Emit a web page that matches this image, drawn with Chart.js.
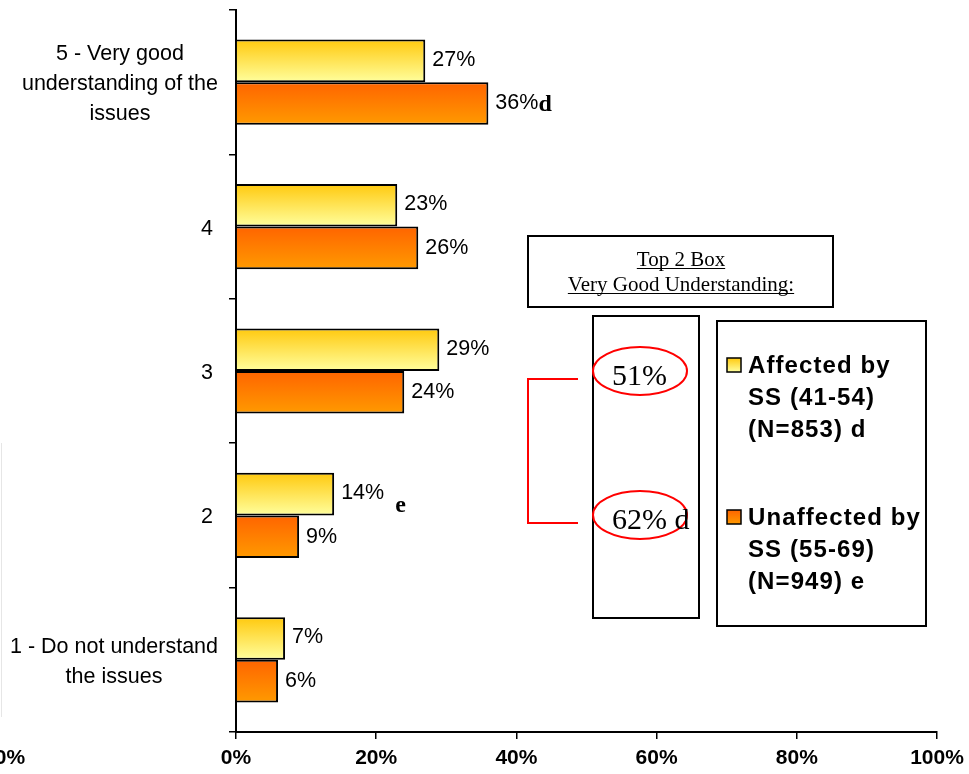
<!DOCTYPE html>
<html>
<head>
<meta charset="utf-8">
<script src="https://cdn.jsdelivr.net/npm/chart.js@4/dist/chart.umd.min.js"></script>
<style>
  html, body { margin: 0; padding: 0; background: #fff; }
  #wrap { width: 969px; height: 774px; }
</style>
</head>
<body>
<div id="wrap"><canvas id="c" width="969" height="774"></canvas></div>
<script>
// Understanding of the issues, by group
const categories = [
  ['5 - Very good', 'understanding of the', 'issues'],
  ['4'],
  ['3'],
  ['2'],
  ['1 - Do not understand', 'the issues']
];
const affected = [27, 23, 29, 14, 7];
const unaffected = [36, 26, 24, 9, 6];
// significance letters shown next to the value labels
const affectedSig = ['', '', '', 'e', ''];
const unaffectedSig = ['d', '', '', '', ''];
const seriesNames = [
  ['Affected by', 'SS (41-54)', '(N=853) d'],
  ['Unaffected by', 'SS (55-69)', '(N=949) e']
];
const xTicks = [0, 20, 40, 60, 80, 100];
const top2Title = ['Top 2 Box', 'Very Good Understanding:'];
const top2Values = [51, 62];
const top2Sig = ['', 'd'];

const CAT_PCT = 0.59;
const SANS = "'Liberation Sans', Arial, sans-serif";
const SERIF = "'Liberation Serif', 'Times New Roman', serif";
const fills = [['#FFC90E', '#FFFF9E'], ['#FF6400', '#FF9A00']];

// vertical gradient per bar, located through the category scale
function barFill(colors, slot) {
  return (c) => {
    const chart = c.chart;
    const ys = chart.scales && chart.scales.y;
    if (!ys || c.dataIndex === undefined || !isFinite(ys.bottom)) return colors[0];
    const band = (ys.bottom - ys.top) / categories.length;
    const thick = band * CAT_PCT / 2;
    const mid = ys.getPixelForValue(c.dataIndex);
    const top = mid - thick + slot * thick;
    const g = chart.ctx.createLinearGradient(0, top, 0, top + thick);
    g.addColorStop(0, colors[0]);
    g.addColorStop(1, colors[1]);
    return g;
  };
}

const decorations = {
  id: 'decorations',
  afterDraw(chart) {
    const ctx = chart.ctx;
    const ys = chart.scales.y;
    ctx.save();

    // category labels: each block centred on itself, right edge near the axis
    ctx.font = '21.5px ' + SANS;
    ctx.fillStyle = '#000';
    ctx.textBaseline = 'middle';
    ctx.textAlign = 'center';
    categories.forEach((lines, i) => {
      const mid = ys.getPixelForValue(i) + 2;
      const w = Math.max(...lines.map(l => ctx.measureText(l).width));
      const right = lines.length > 1 ? 218 : 213;
      const cx = right - w / 2;
      const lh = 30;
      lines.forEach((l, k) => {
        ctx.fillText(l, cx, mid + (k - (lines.length - 1) / 2) * lh);
      });
    });

    // value labels and significance letters
    const sigs = [affectedSig, unaffectedSig];
    chart.data.datasets.forEach((ds, di) => {
      const meta = chart.getDatasetMeta(di);
      meta.data.forEach((bar, i) => {
        const txt = ds.data[i] + '%';
        ctx.font = '21.5px ' + SANS;
        ctx.textAlign = 'left';
        ctx.textBaseline = 'middle';
        ctx.fillStyle = '#000';
        const x0 = bar.x + 7;
        const y0 = bar.y - (di === 0 ? 1 : 0);
        ctx.fillText(txt, x0, y0);
        const s = sigs[di][i];
        if (s) {
          const w = ctx.measureText(txt).width;
          ctx.font = 'bold 24px ' + SERIF;
          if (di === 0) ctx.fillText(s, x0 + w + 11, y0 + 13);
          else ctx.fillText(s, x0 + w, y0 + 1);
        }
      });
    });

    // stray axis label at the far left edge and faint frame line
    ctx.font = 'bold 21px ' + SANS;
    ctx.textAlign = 'center';
    ctx.textBaseline = 'middle';
    ctx.fillText('0%', 10, 758);
    ctx.strokeStyle = '#e6e6e6';
    ctx.lineWidth = 1;
    ctx.beginPath();
    ctx.moveTo(1.5, 443); ctx.lineTo(1.5, 717);
    ctx.stroke();

    // Top 2 Box heading
    ctx.strokeStyle = '#000';
    ctx.lineWidth = 2;
    ctx.strokeRect(528, 236, 305, 71);
    ctx.font = '21px ' + SERIF;
    ctx.textAlign = 'center';
    ctx.textBaseline = 'alphabetic';
    [[top2Title[0], 266], [top2Title[1], 291]].forEach(([t, by]) => {
      ctx.fillText(t, 681, by);
      const w = ctx.measureText(t).width;
      ctx.lineWidth = 1;
      ctx.beginPath();
      ctx.moveTo(681 - w / 2, by + 2.5); ctx.lineTo(681 + w / 2, by + 2.5);
      ctx.stroke();
    });

    // Top 2 values box with circled figures
    ctx.lineWidth = 2;
    ctx.strokeRect(593, 316, 106, 302);
    const circY = [371, 515];
    top2Values.forEach((v, i) => {
      ctx.strokeStyle = '#ff0000';
      ctx.lineWidth = 2;
      ctx.beginPath();
      ctx.ellipse(640, circY[i], 47, 24, 0, 0, Math.PI * 2);
      ctx.stroke();
      ctx.fillStyle = '#000';
      ctx.font = '30px ' + SERIF;
      ctx.textAlign = 'left';
      ctx.textBaseline = 'middle';
      const t = v + '%' + (top2Sig[i] ? ' ' + top2Sig[i] : '');
      ctx.fillText(t, 612, circY[i] + 6);
    });
    // red bracket linking the two figures
    ctx.strokeStyle = '#ff0000';
    ctx.lineWidth = 2;
    ctx.beginPath();
    ctx.moveTo(578, 379); ctx.lineTo(528, 379); ctx.lineTo(528, 523); ctx.lineTo(578, 523);
    ctx.stroke();

    // legend
    ctx.strokeStyle = '#000';
    ctx.lineWidth = 2;
    ctx.strokeRect(717, 321, 209, 305);
    const firstLine = [366, 518];
    seriesNames.forEach((lines, i) => {
      const sy = firstLine[i] - 8;
      const g = ctx.createLinearGradient(0, sy, 0, sy + 14);
      g.addColorStop(0, fills[i][0]);
      g.addColorStop(1, fills[i][1]);
      ctx.fillStyle = g;
      ctx.fillRect(727, sy, 14, 14);
      ctx.lineWidth = 1.5;
      ctx.strokeStyle = '#000';
      ctx.strokeRect(727, sy, 14, 14);
      ctx.fillStyle = '#000';
      ctx.font = 'bold 24px ' + SANS;
      ctx.textAlign = 'left';
      ctx.textBaseline = 'middle';
      if ('letterSpacing' in ctx) ctx.letterSpacing = '1.1px';
      lines.forEach((l, k) => ctx.fillText(l, 748, firstLine[i] + k * 32));
      if ('letterSpacing' in ctx) ctx.letterSpacing = '0px';
    });

    ctx.restore();
  }
};

new Chart(document.getElementById('c'), {
  type: 'bar',
  data: {
    labels: categories,
    datasets: [
      {
        label: seriesNames[0].join(' '),
        data: affected,
        backgroundColor: barFill(fills[0], 0),
        borderColor: '#000',
        borderWidth: 2,
        categoryPercentage: CAT_PCT,
        barPercentage: 1
      },
      {
        label: seriesNames[1].join(' '),
        data: unaffected,
        backgroundColor: barFill(fills[1], 1),
        borderColor: '#000',
        borderWidth: 2,
        categoryPercentage: CAT_PCT,
        barPercentage: 1
      }
    ]
  },
  options: {
    indexAxis: 'y',
    responsive: false,
    animation: false,
    devicePixelRatio: 1,
    layout: { padding: { top: 10, right: 32, left: 0, bottom: 0 } },
    plugins: { legend: { display: false }, tooltip: { enabled: false } },
    scales: {
      x: {
        min: 0,
        max: 100,
        afterBuildTicks: (s) => { s.ticks = xTicks.map(v => ({ value: v })); },
        grid: { display: true, drawOnChartArea: false, drawTicks: true, tickLength: 7, color: '#000', lineWidth: 1.5 },
        border: { display: true, color: '#000', width: 2 },
        ticks: {
          callback: (v) => v + '%',
          font: { family: SANS, size: 21, weight: 'bold' },
          color: '#000',
          padding: 7,
          maxRotation: 0,
          autoSkip: false
        },
        afterFit: (s) => { s.height = 42; s.paddingLeft = 0; s.paddingRight = 0; }
      },
      y: {
        grid: { display: true, offset: true, drawOnChartArea: false, drawTicks: true, tickLength: 7, color: '#000', lineWidth: 1.5 },
        border: { display: true, color: '#000', width: 2 },
        ticks: { display: false },
        afterFit: (s) => { s.width = 236; }
      }
    }
  },
  plugins: [decorations]
});
</script>
</body>
</html>
